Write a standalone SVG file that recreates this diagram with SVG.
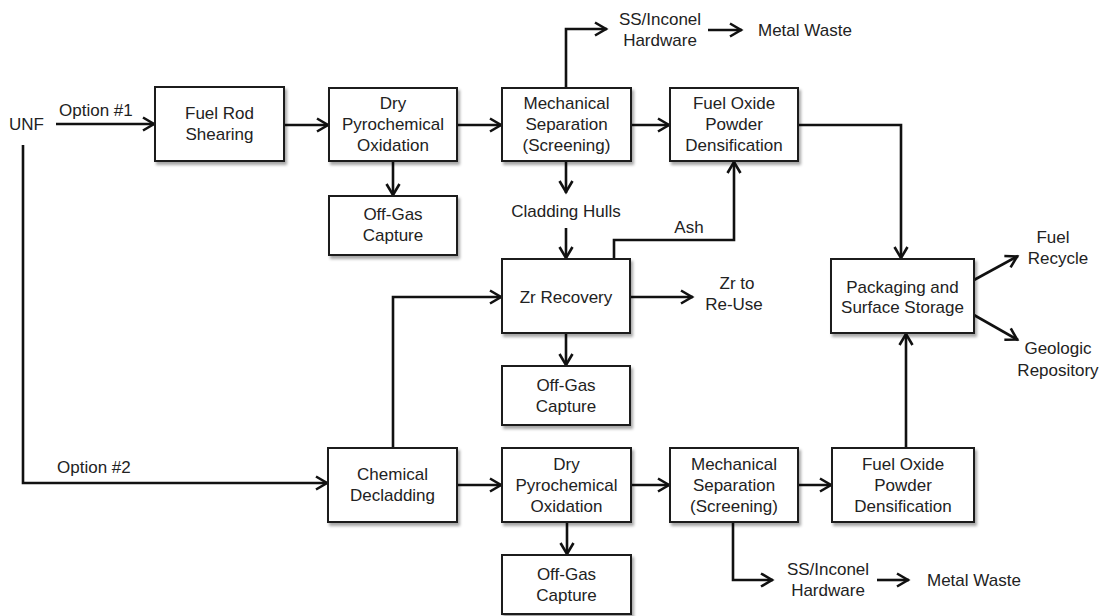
<svg xmlns="http://www.w3.org/2000/svg" width="1103" height="616" viewBox="0 0 1103 616">
<defs>
<marker id="arr" markerUnits="userSpaceOnUse" markerWidth="20" markerHeight="20" viewBox="-14 -10 20 20" refX="1" refY="0" orient="auto">
<path d="M-11,-6.5 L0,0 L-11,6.5" fill="none" stroke="#111" stroke-width="2.6" stroke-linejoin="miter"/>
</marker>
<filter id="sh" x="-10%" y="-10%" width="130%" height="140%">
<feDropShadow dx="2" dy="3" stdDeviation="1.6" flood-color="#000" flood-opacity="0.35"/>
</filter>
</defs>
<style>
.box{fill:#fff;stroke:#1a1a1a;stroke-width:2;filter:url(#sh)}
.c{fill:none;stroke:#111;stroke-width:2.6;marker-end:url(#arr)}
.cn{fill:none;stroke:#111;stroke-width:2.6}
text{font-family:"Liberation Sans",Arial,sans-serif;font-size:17px;fill:#222}
.m{text-anchor:middle;dominant-baseline:central}
.l{dominant-baseline:central}
</style>
<rect width="1103" height="616" fill="#fff"/>

<g id="connectors">
<path class="c" d="M56,124 H155"/>
<path class="c" d="M284,125 H329"/>
<path class="c" d="M457,125 H502"/>
<path class="c" d="M631,125 H670"/>
<path class="c" d="M393,161 V196"/>
<path class="c" d="M566,161 V193"/>
<path class="c" d="M566,228 V259"/>
<path class="c" d="M566,88 V29 H607"/>
<path class="c" d="M708,30 H742"/>
<path class="c" d="M798,125 H901 V259"/>
<path class="c" d="M614,259 V240 H734 V161"/>
<path class="c" d="M393,448 V297 H502"/>
<path class="c" d="M630,297 H693"/>
<path class="c" d="M566,333 V366"/>
<path class="c" d="M23,145 V483 H328"/>
<path class="c" d="M457,485 H502"/>
<path class="c" d="M631,485 H670"/>
<path class="c" d="M798,485 H832"/>
<path class="c" d="M567,522 V555"/>
<path class="c" d="M733,522 V580 H773"/>
<path class="c" d="M877,580 H909"/>
<path class="c" d="M906,448 V333"/>
<path class="c" d="M974,280 L1018,256"/>
<path class="c" d="M974,315 L1018,340"/>
</g>

<g id="labels">
<text class="l" x="9" y="124">UNF</text>
<text x="59" y="116">Option #1</text>
<text x="57" y="473">Option #2</text>
<text class="m" x="566" y="211">Cladding Hulls</text>
<text class="m" x="689" y="227">Ash</text>
<text class="m" x="660" y="19">SS/Inconel</text>
<text class="m" x="660" y="40">Hardware</text>
<text class="l" x="758" y="30">Metal Waste</text>
<text class="m" x="737" y="283">Zr to</text>
<text class="m" x="734" y="304">Re-Use</text>
<text class="m" x="1053" y="237">Fuel</text>
<text class="m" x="1058" y="258">Recycle</text>
<text class="m" x="1058" y="348">Geologic</text>
<text class="m" x="1058" y="370">Repository</text>
<text class="m" x="828" y="569">SS/Inconel</text>
<text class="m" x="828" y="590">Hardware</text>
<text class="l" x="927" y="580">Metal Waste</text>
</g>

<g id="fuel-rod-shearing">
<rect class="box" x="155" y="87" width="129" height="74"/>
<text class="m" x="219.5" y="113">Fuel Rod</text>
<text class="m" x="219.5" y="134">Shearing</text>
</g>
<g id="dry-pyro-1">
<rect class="box" x="329" y="88" width="128" height="73"/>
<text class="m" x="393" y="103.5">Dry</text>
<text class="m" x="393" y="124.5">Pyrochemical</text>
<text class="m" x="393" y="145.5">Oxidation</text>
</g>
<g id="mech-sep-1">
<rect class="box" x="502" y="88" width="129" height="73"/>
<text class="m" x="566.5" y="103.5">Mechanical</text>
<text class="m" x="566.5" y="124.5">Separation</text>
<text class="m" x="566.5" y="145.5">(Screening)</text>
</g>
<g id="fuel-oxide-1">
<rect class="box" x="670" y="88" width="128" height="73"/>
<text class="m" x="734" y="103.5">Fuel Oxide</text>
<text class="m" x="734" y="124.5">Powder</text>
<text class="m" x="734" y="145.5">Densification</text>
</g>
<g id="offgas-1">
<rect class="box" x="329" y="196" width="128" height="59"/>
<text class="m" x="393" y="214">Off-Gas</text>
<text class="m" x="393" y="235">Capture</text>
</g>
<g id="zr-recovery">
<rect class="box" x="502" y="259" width="128" height="74"/>
<text class="m" x="566" y="297">Zr Recovery</text>
</g>
<g id="offgas-2">
<rect class="box" x="502" y="366" width="128" height="59"/>
<text class="m" x="566" y="385">Off-Gas</text>
<text class="m" x="566" y="406">Capture</text>
</g>
<g id="packaging">
<rect class="box" x="831" y="259" width="143" height="74"/>
<text class="m" x="902.5" y="287">Packaging and</text>
<text class="m" x="902.5" y="307">Surface Storage</text>
</g>
<g id="chemical-decladding">
<rect class="box" x="328" y="448" width="129" height="74"/>
<text class="m" x="392.5" y="474">Chemical</text>
<text class="m" x="392.5" y="495">Decladding</text>
</g>
<g id="dry-pyro-2">
<rect class="box" x="502" y="448" width="129" height="74"/>
<text class="m" x="566.5" y="464">Dry</text>
<text class="m" x="566.5" y="485">Pyrochemical</text>
<text class="m" x="566.5" y="506">Oxidation</text>
</g>
<g id="mech-sep-2">
<rect class="box" x="670" y="448" width="128" height="74"/>
<text class="m" x="734" y="464">Mechanical</text>
<text class="m" x="734" y="485">Separation</text>
<text class="m" x="734" y="506">(Screening)</text>
</g>
<g id="fuel-oxide-2">
<rect class="box" x="832" y="448" width="142" height="74"/>
<text class="m" x="903" y="464">Fuel Oxide</text>
<text class="m" x="903" y="485">Powder</text>
<text class="m" x="903" y="506">Densification</text>
</g>
<g id="offgas-3">
<rect class="box" x="502" y="555" width="129" height="59"/>
<text class="m" x="566.5" y="574">Off-Gas</text>
<text class="m" x="566.5" y="595">Capture</text>
</g>
</svg>
